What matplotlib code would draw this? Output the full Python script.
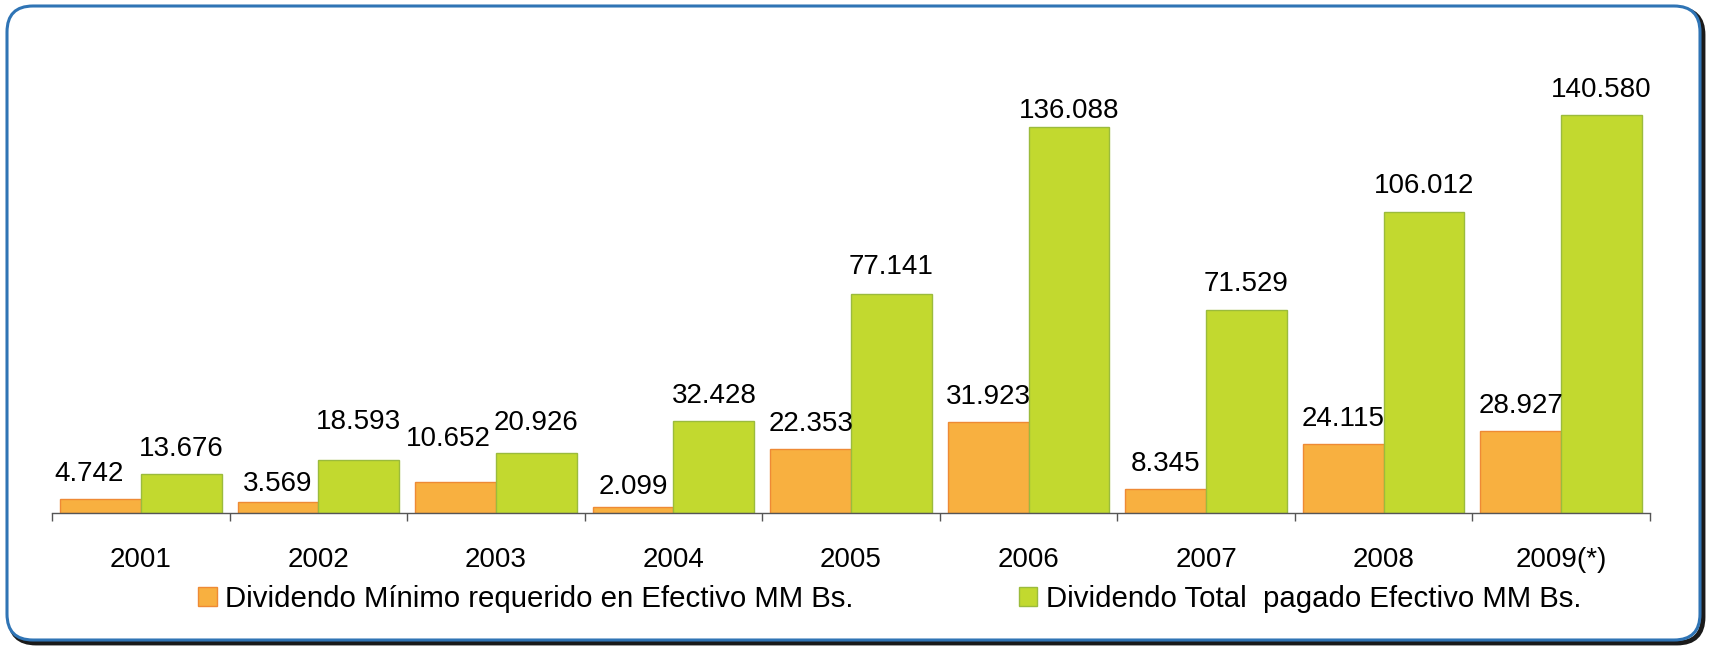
import matplotlib
matplotlib.use("Agg")
import matplotlib.pyplot as plt
import numpy as np
from matplotlib.patches import FancyBboxPatch

categories = ["2001", "2002", "2003", "2004", "2005", "2006", "2007", "2008", "2009(*)"]
minimo = [4.742, 3.569, 10.652, 2.099, 22.353, 31.923, 8.345, 24.115, 28.927]
total = [13.676, 18.593, 20.926, 32.428, 77.141, 136.088, 71.529, 106.012, 140.580]
labels_min = ["4.742", "3.569", "10.652", "2.099", "22.353", "31.923", "8.345", "24.115", "28.927"]
labels_tot = ["13.676", "18.593", "20.926", "32.428", "77.141", "136.088", "71.529", "106.012", "140.580"]
series_names = ["Dividendo Mínimo requerido en Efectivo MM Bs.",
                "Dividendo Total  pagado Efectivo MM Bs."]

# label nudges (points) mimicking the manually placed labels of the original
nudge_min_x = [-8, 0, -5.5, 0, 0, 0, 0, 0, 0]
nudge_min_y = [0, -4.7, 13.3, -4, 0, 0, 0, 0, 0]
nudge_tot_x = [0, 0, 0, 0, 0, 0, 0, 0, 0]
nudge_tot_y = [0, 9.4, 4, 0, 2, -6.3, 1, 1, 0]

plt.rcParams['font.family'] = ['Liberation Sans', 'DejaVu Sans']

W, H = 1711, 648
fig = plt.figure(figsize=(W / 100, H / 100), dpi=100)

# background frame axes (pixel coordinates)
bg = fig.add_axes([0, 0, 1, 1], zorder=0)
bg.set_xlim(0, W)
bg.set_ylim(H, 0)
bg.axis("off")
x0, y0, x1, y1 = 7, 6, 1700, 640
r = 26
shadow = FancyBboxPatch((x0 + 3, y0 + 3), x1 - x0, y1 - y0,
                        boxstyle=f"round,pad=0,rounding_size={r}",
                        fc="none", ec="#1a1a1a", lw=3.5)
bg.add_patch(shadow)
frame = FancyBboxPatch((x0, y0), x1 - x0, y1 - y0,
                       boxstyle=f"round,pad=0,rounding_size={r}",
                       fc="white", ec="#2F74B5", lw=2.2)
bg.add_patch(frame)

# chart axes
ax_left, ax_right = 52, 1650
base_y, top_y = 512.5, 40
scale = 2.831
ax = fig.add_axes([ax_left / W, (H - base_y) / H, (ax_right - ax_left) / W, (base_y - top_y) / H], zorder=1)
ax.patch.set_alpha(0)

n = len(categories)
x = np.arange(n)
bw = 0.455
b1 = ax.bar(x - bw / 2, minimo, bw, color="#F8B040", edgecolor="#EE8A35", linewidth=1.0,
            label=series_names[0])
b2 = ax.bar(x + bw / 2, total, bw, color="#C2D92F", edgecolor="#9BBB3C", linewidth=1.0,
            label=series_names[1])

pad = 8.5
for bars, labs, nx, ny in [(b1, labels_min, nudge_min_x, nudge_min_y),
                           (b2, labels_tot, nudge_tot_x, nudge_tot_y)]:
    for rect, lab, dx, dy in zip(bars, labs, nx, ny):
        cx = rect.get_x() + rect.get_width() / 2
        ax.annotate(lab, (cx, rect.get_height()), xytext=(dx, pad + dy),
                    textcoords="offset points", ha="center", va="bottom",
                    fontsize=20, annotation_clip=False)

ax.set_xlim(-0.5, n - 0.5)
ax.set_ylim(0, (base_y - top_y) / scale)

for s in ["top", "right", "left"]:
    ax.spines[s].set_visible(False)
ax.spines["bottom"].set_color("#555555")
ax.spines["bottom"].set_linewidth(1.0)
ax.set_yticks([])
ax.set_xticks(x)
ax.set_xticklabels(categories, fontsize=20)
ax.tick_params(axis="x", which="major", length=0, pad=25)
ax.set_xticks(np.arange(n + 1) - 0.5, minor=True)
ax.tick_params(axis="x", which="minor", length=6, color="#555555", width=1.0)

leg = fig.legend(handles=[b1, b2], labels=series_names, loc="center left",
                 bbox_to_anchor=(198 / W, (H - 599) / H), ncol=2, frameon=False,
                 fontsize=21.2, handlelength=0.63, handleheight=0.63, handletextpad=0.3,
                 columnspacing=5.6, borderaxespad=0, borderpad=0)

fig.savefig("out.png", dpi=100)
